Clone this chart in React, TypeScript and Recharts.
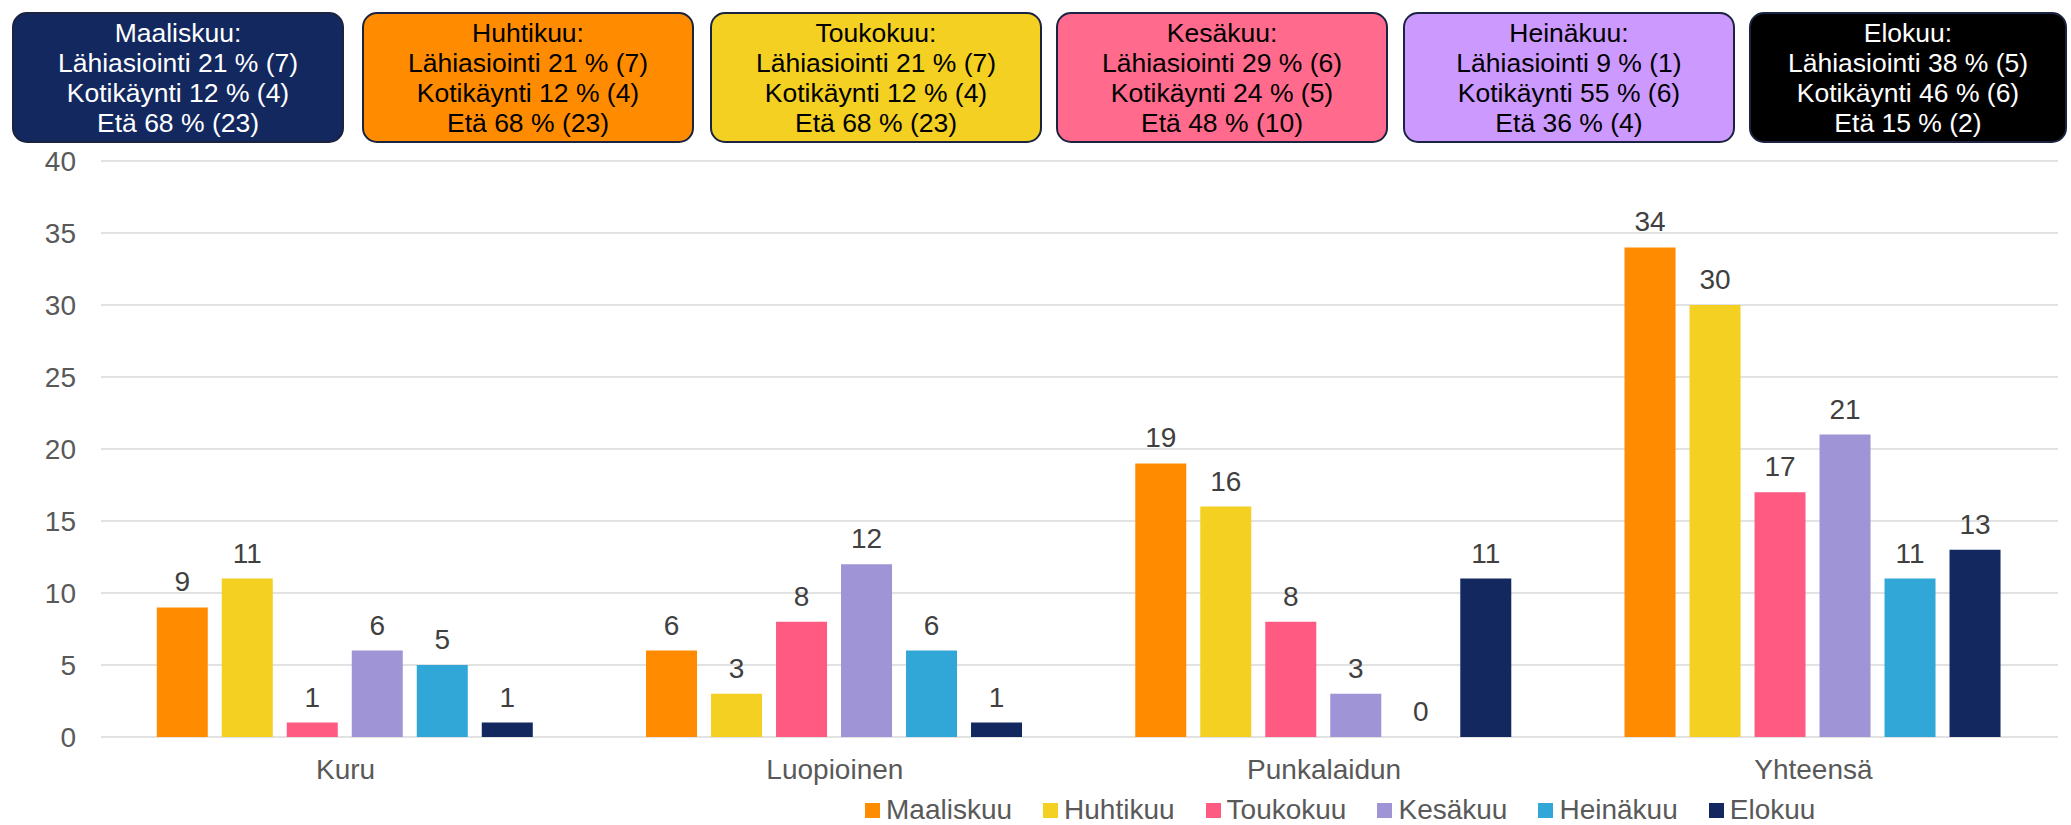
import React from 'react';
import { BarChart, Bar, XAxis, YAxis, CartesianGrid, Legend, LabelList } from 'recharts';

// kunnat ja kuukaudet
const categories = ['Kuru', 'Luopioinen', 'Punkalaidun', 'Yhteensä'];
const months = ['Maaliskuu', 'Huhtikuu', 'Toukokuu', 'Kesäkuu', 'Heinäkuu', 'Elokuu'];
const barColors = ['#FF8B00', '#F3D021', '#FF5A82', '#9F95D6', '#31A7D8', '#12285E'];

// arvot per kuukausi (Kuru, Luopioinen, Punkalaidun, Yhteensä)
const maaliskuu = [9, 6, 19, 34];
const huhtikuu = [11, 3, 16, 30];
const toukokuu = [1, 8, 8, 17];
const kesakuu = [6, 12, 3, 21];
const heinakuu = [5, 6, 0, 11];
const elokuu = [1, 1, 11, 13];
const seriesValues = [maaliskuu, huhtikuu, toukokuu, kesakuu, heinakuu, elokuu];

const yTicks = [0, 5, 10, 15, 20, 25, 30, 35, 40];

// yläreunan laatikot
const boxTitles = ['Maaliskuu:', 'Huhtikuu:', 'Toukokuu:', 'Kesäkuu:', 'Heinäkuu:', 'Elokuu:'];
const boxLahi = ['21 % (7)', '21 % (7)', '21 % (7)', '29 % (6)', '9 % (1)', '38 % (5)'];
const boxKoti = ['12 % (4)', '12 % (4)', '12 % (4)', '24 % (5)', '55 % (6)', '46 % (6)'];
const boxEta = ['68 % (23)', '68 % (23)', '68 % (23)', '48 % (10)', '36 % (4)', '15 % (2)'];
const boxFills = ['#12285E', '#FF8C00', '#F3D021', '#FF6A8D', '#CC99FF', '#000000'];
const boxText = ['#FFFFFF', '#000000', '#000000', '#000000', '#000000', '#FFFFFF'];

const boxLeft = [12, 362, 710, 1056, 1403, 1749];
const boxWidth = [332, 332, 332, 332, 332, 318];

const data = categories.map((name, i) => {
  const row: Record<string, string | number> = { name };
  months.forEach((m, j) => {
    row[m] = seriesValues[j][i];
  });
  return row;
});

const FONT = '"Liberation Sans", Arial, sans-serif';

// legenda kuukausijärjestyksessä
const renderLegend = () => (
  <div style={{ height: 48, paddingLeft: 865, paddingTop: 19, boxSizing: 'border-box', display: 'flex' }}>
    {months.map((m, j) => (
      <div key={m} style={{ display: 'flex', alignItems: 'center', marginRight: 31, height: 28 }}>
        <span style={{ display: 'inline-block', width: 15, height: 15, background: barColors[j], marginRight: 6 }} />
        <span style={{ fontSize: 28, lineHeight: '28px', color: '#595959', whiteSpace: 'nowrap' }}>{m}</span>
      </div>
    ))}
  </div>
);

const App = () => {
  return (
    <div
      style={{
        position: 'fixed',
        left: 0,
        top: 0,
        width: 2071,
        height: 825,
        overflow: 'hidden',
        background: '#fff',
        fontFamily: FONT,
      }}
    >
      <div style={{ position: 'absolute', left: 0, top: 0 }}>
        <BarChart
          width={2071}
          height={825}
          data={data}
          margin={{ top: 161, right: 13, left: 0, bottom: 0 }}
          barCategoryGap="11.4%"
          barGap={14}
        >
          <CartesianGrid vertical={false} stroke="#D9D9D9" strokeWidth={1.5} />
          <XAxis
            dataKey="name"
            axisLine={false}
            tickLine={false}
            tickSize={0}
            tickMargin={22}
            height={40}
            tick={{ fontSize: 28, fill: '#595959' }}
          />
          <YAxis
            domain={[0, 40]}
            ticks={yTicks}
            axisLine={false}
            tickLine={false}
            tickSize={0}
            tickMargin={25}
            width={101}
            tick={{ fontSize: 28, fill: '#595959' }}
          />
          <Legend verticalAlign="bottom" content={renderLegend} />
          {months.map((m, j) => (
            <Bar key={m} dataKey={m} name={m} fill={barColors[j]} minPointSize={0.01} isAnimationActive={false}>
              <LabelList dataKey={m} position="top" offset={16} fill="#404040" fontSize={28} />
            </Bar>
          ))}
        </BarChart>
      </div>
      {boxTitles.map((title, i) => (
        <div
          key={title}
          style={{
            position: 'absolute',
            left: boxLeft[i],
            top: 12,
            width: boxWidth[i],
            height: 131,
            boxSizing: 'border-box',
            background: boxFills[i],
            border: '2px solid #1B2340',
            borderRadius: 15,
            color: boxText[i],
            display: 'flex',
            flexDirection: 'column',
            alignItems: 'center',
            justifyContent: 'center',
            fontSize: 26.5,
            lineHeight: '30px',
            textAlign: 'center',
          }}
        >
          <div>{title}</div>
          <div>Lähiasiointi {boxLahi[i]}</div>
          <div>Kotikäynti {boxKoti[i]}</div>
          <div>Etä {boxEta[i]}</div>
        </div>
      ))}
    </div>
  );
};

export default App;
